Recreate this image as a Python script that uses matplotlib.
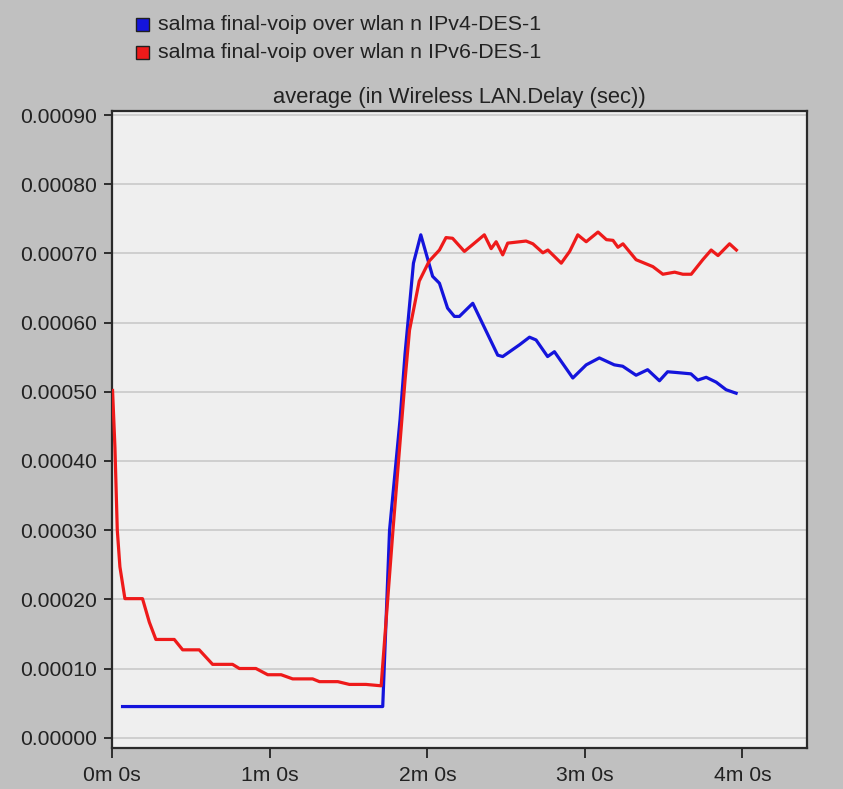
import matplotlib
matplotlib.use("Agg")
import matplotlib.pyplot as plt
from matplotlib.patches import Rectangle
from matplotlib.ticker import FuncFormatter, FixedLocator

# ---- data (time in seconds, delay in sec) ----
series_names = ["salma final-voip over wlan n IPv4-DES-1",
                "salma final-voip over wlan n IPv6-DES-1"]
series_colors = ["#1414dc", "#ee1a1a"]

blue_t = [3.9, 103.0, 105.6, 109.6, 111.5, 114.7, 117.5, 122.0, 124.6, 127.7,
          130.3, 132.2, 137.3, 146.8, 148.7, 155.1, 158.9, 161.4, 165.8, 168.4,
          175.4, 180.5, 185.5, 191.2, 194.4, 199.5, 203.9, 208.4, 211.5, 214.7,
          220.4, 223.0, 226.2, 230.0, 233.8, 237.6]
blue_v = [0.45, 0.45, 3.0, 4.6, 5.55, 6.86, 7.27, 6.67, 6.57, 6.21,
          6.09, 6.09, 6.28, 5.53, 5.51, 5.68, 5.79, 5.75, 5.51, 5.58,
          5.20, 5.39, 5.49, 5.39, 5.37, 5.24, 5.32, 5.16, 5.29, 5.28,
          5.26, 5.17, 5.21, 5.14, 5.03, 4.98]

red_t = [0.1, 1.0, 1.9, 2.9, 4.8, 11.5, 14.1, 16.6, 23.6, 26.8, 33.1, 38.2,
         45.8, 48.4, 54.7, 59.2, 64.3, 68.7, 76.3, 78.9, 85.9, 90.3, 96.6,
         102.4, 106.9, 111.5, 113.2, 116.9, 120.7, 124.6, 127.1, 129.6, 134.1,
         137.3, 141.7, 144.3, 146.2, 148.7, 150.6, 157.6, 160.2, 164.0, 165.9,
         171.0, 174.2, 177.3, 180.5, 185.0, 188.2, 190.7, 192.6, 194.5, 199.5,
         202.7, 205.9, 209.7, 214.2, 217.3, 220.5, 224.9, 228.1, 230.7, 235.1,
         237.7]
red_v = [5.02, 4.2, 3.0, 2.47, 2.01, 2.01, 1.67, 1.42, 1.42, 1.27, 1.27, 1.06,
         1.06, 1.0, 1.0, 0.91, 0.91, 0.85, 0.85, 0.81, 0.81, 0.77, 0.77,
         0.75, 3.0, 5.17, 5.89, 6.6, 6.89, 7.05, 7.23, 7.22, 7.03,
         7.13, 7.27, 7.07, 7.17, 6.98, 7.15, 7.18, 7.14, 7.01, 7.05,
         6.86, 7.03, 7.27, 7.17, 7.31, 7.2, 7.19, 7.09, 7.14, 6.91,
         6.86, 6.81, 6.70, 6.73, 6.70, 6.70, 6.91, 7.05, 6.97, 7.14,
         7.05]

y_ticks = [0.0, 0.0001, 0.0002, 0.0003, 0.0004, 0.0005, 0.0006, 0.0007, 0.0008, 0.0009]
x_ticks = [0, 60, 120, 180, 240]
title = "average (in Wireless LAN.Delay (sec))"

# ---- figure ----
plt.rcParams['font.family'] = ['Liberation Sans', 'DejaVu Sans']
W, H = 843, 789
fig = plt.figure(figsize=(W / 100, H / 100), dpi=100, facecolor="#c0c0c0")
ax = fig.add_axes([112.3 / W, 1 - 747.5 / H, (807 - 112.3) / W, (747.5 - 111) / H])
ax.set_facecolor("#efefef")

ax.plot(blue_t, [v * 1e-4 for v in blue_v], color=series_colors[0], lw=2.3, zorder=3,
        solid_joinstyle="round")
ax.plot(red_t, [v * 1e-4 for v in red_v], color=series_colors[1], lw=2.3, zorder=3,
        solid_joinstyle="round")

ax.set_xlim(0, 264.6)
ax.set_ylim(-0.0000142, 0.000906)
ax.yaxis.set_major_locator(FixedLocator(y_ticks))
ax.xaxis.set_major_locator(FixedLocator(x_ticks))
ax.yaxis.set_major_formatter(FuncFormatter(lambda v, p: f"{v:.5f}"))
ax.xaxis.set_major_formatter(FuncFormatter(lambda v, p: f"{int(round(v / 60))}m 0s"))
ax.grid(axis="y", color="#cfcfcf", lw=1.4)
ax.set_axisbelow(True)
for s in ax.spines.values():
    s.set_color("#2a2a2a")
    s.set_linewidth(1.6)
ax.tick_params(axis="y", direction="out", length=6, width=1.3, pad=5,
               labelsize=15.2, colors="#222222")
ax.tick_params(axis="x", direction="out", length=7, width=1.3, pad=6,
               labelsize=15.2, colors="#222222")
ax.set_title(title, fontsize=15.8, color="#222222", pad=6)

# ---- legend (manual, OPNET style) ----
for i, (name, col) in enumerate(zip(series_names, series_colors)):
    yc = 24 + 28 * i
    fig.add_artist(Rectangle((136 / W, 1 - (yc + 6.5) / H), 13 / W, 13 / H,
                             transform=fig.transFigure, facecolor=col,
                             edgecolor="#202020", lw=1.0))
    fig.text(158 / W, 1 - yc / H, name, fontsize=15.4, color="#222222",
             va="center", ha="left")

fig.savefig("out.png", dpi=100, facecolor=fig.get_facecolor())
